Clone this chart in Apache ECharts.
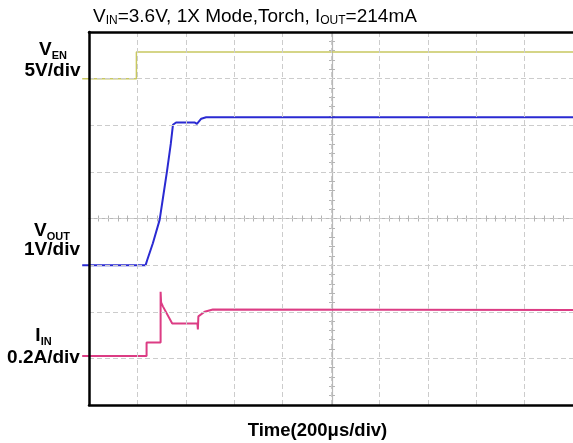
<!DOCTYPE html>
<html>
<head>
<meta charset="utf-8">
<script src="https://cdn.jsdelivr.net/npm/echarts@6/dist/echarts.min.js"></script>
<style>html,body{margin:0;padding:0;background:#fff;}#c{width:573px;height:443px;}</style>
</head>
<body>
<div id="c"></div>
<script>
// Oscilloscope traces, in divisions (x: 10 divs of 200us, y: 8 divs)
// Traces start slightly left of the graticule (channel lead-in), at x = -0.14 div
var venX  = [-0.14, 0.98, 0.98, 10];
var venY  = [7.0, 7.0, 7.57, 7.57];

var voutX = [-0.14, 1.17, 1.2, 1.32, 1.46, 1.53, 1.61, 1.69, 1.735, 1.8, 2.18, 2.23, 2.32, 2.42, 10];
var voutY = [3.0, 3.0, 3.1, 3.47, 3.97, 4.45, 5.0, 5.6, 6.01, 6.06, 6.06, 6.03, 6.14, 6.17, 6.17];

var iinX  = [-0.14, 1.19, 1.19, 1.48, 1.48, 1.49, 1.53, 1.72, 2.24, 2.25, 2.26, 2.28, 2.39, 2.56, 10];
var iinY  = [1.05, 1.05, 1.34, 1.34, 2.43, 2.2, 2.11, 1.75, 1.75, 1.62, 1.90, 1.93, 2.00, 2.05, 2.04];

var xDivs = 10, yDivs = 8, leadIn = 0.14;

function pairs(xs, ys) { return xs.map(function (x, i) { return [x, ys[i]]; }); }

var chart = echarts.init(document.getElementById('c'), null, {renderer: 'canvas'});
var gridLine = {show: true, lineStyle: {color: '#cccccc', width: 1, type: [5, 3]}};
var F = 'Liberation Sans, Arial, sans-serif';
var off = {show: false};
var tickCol = {color: '#b4b4b4', width: 1};

var GL = 89, GT = 32, GW = 486, GH = 373;
var divW = GW / xDivs;

function centerX(inside) {
  return {type: 'value', gridIndex: 0, min: 0, max: xDivs, interval: 0.2, position: 'bottom', offset: -GH / 2,
    axisLine: {show: inside, onZero: false, lineStyle: {color: '#b8b8b8', width: 1.2}}, axisLabel: off, splitLine: off,
    axisTick: {show: true, inside: inside, length: 3, lineStyle: tickCol}};
}
function centerY(inside) {
  return {type: 'value', gridIndex: 0, min: 0, max: yDivs, interval: 0.2, position: 'left', offset: -GW / 2,
    axisLine: {show: inside, onZero: false, lineStyle: {color: '#b8b8b8', width: 1.2}}, axisLabel: off, splitLine: off,
    axisTick: {show: true, inside: inside, length: 3, lineStyle: tickCol}};
}

var black = {show: true, onZero: false, lineStyle: {color: '#000', width: 2.5}};

chart.setOption({
  animation: false,
  backgroundColor: '#fff',
  grid: [
    {left: GL, top: GT, width: GW, height: GH, show: false},
    {left: GL - leadIn * divW, top: GT, width: GW + leadIn * divW, height: GH, show: false}
  ],
  xAxis: [
    {type: 'value', gridIndex: 0, min: 0, max: xDivs, interval: 1, position: 'bottom', z: 10,
     axisLine: black, axisTick: off, axisLabel: off, splitLine: gridLine},
    {type: 'value', gridIndex: 0, min: 0, max: xDivs, interval: 1, position: 'top', z: 10,
     axisLine: black, axisTick: off, axisLabel: off, splitLine: off},
    centerX(true), centerX(false),
    {type: 'value', gridIndex: 1, min: -leadIn, max: xDivs,
     axisLine: off, axisTick: off, axisLabel: off, splitLine: off}
  ],
  yAxis: [
    {type: 'value', gridIndex: 0, min: 0, max: yDivs, interval: 1, position: 'left', z: 10,
     axisLine: black, axisTick: off, axisLabel: off, splitLine: gridLine},
    centerY(true), centerY(false),
    {type: 'value', gridIndex: 1, min: 0, max: yDivs,
     axisLine: off, axisTick: off, axisLabel: off, splitLine: off}
  ],
  series: [
    {type: 'line', xAxisIndex: 4, yAxisIndex: 3, data: pairs(venX, venY), showSymbol: false, lineStyle: {color: '#c8c860', width: 1.5}, z: 3},
    {type: 'line', xAxisIndex: 4, yAxisIndex: 3, data: pairs(voutX, voutY), showSymbol: false, lineStyle: {color: '#2a2ad2', width: 2}, z: 4},
    {type: 'line', xAxisIndex: 4, yAxisIndex: 3, data: pairs(iinX, iinY), showSymbol: false, lineStyle: {color: '#dc3c84', width: 2}, z: 4}
  ],
  graphic: [
    {type: 'text', left: 93, top: 7, style: {
      text: '{n|V}{s|IN}{n|=3.6V, 1X Mode,Torch, I}{s|OUT}{n|=214mA}',
      rich: {n: {fontFamily: F, fontSize: 19, lineHeight: 21, fill: '#000'},
             s: {fontFamily: F, fontSize: 12, lineHeight: 12, verticalAlign: 'bottom', fill: '#000'}}}},
    {type: 'text', x: 53, y: 50, style: {text: '{n|V}{s|EN}', align: 'center', verticalAlign: 'middle',
      rich: {n: {fontFamily: F, fontWeight: 'bold', fontSize: 19, lineHeight: 22, fill: '#000'},
             s: {fontFamily: F, fontWeight: 'bold', fontSize: 11, lineHeight: 13, verticalAlign: 'bottom', fill: '#000'}}}},
    {type: 'text', x: 52.5, y: 71, style: {text: '5V/div', align: 'center', verticalAlign: 'middle',
      fontFamily: F, fontWeight: 'bold', fontSize: 19, fill: '#000'}},
    {type: 'text', x: 52, y: 231, style: {text: '{n|V}{s|OUT}', align: 'center', verticalAlign: 'middle',
      rich: {n: {fontFamily: F, fontWeight: 'bold', fontSize: 19, lineHeight: 22, fill: '#000'},
             s: {fontFamily: F, fontWeight: 'bold', fontSize: 11, lineHeight: 13, verticalAlign: 'bottom', fill: '#000'}}}},
    {type: 'text', x: 52, y: 250, style: {text: '1V/div', align: 'center', verticalAlign: 'middle',
      fontFamily: F, fontWeight: 'bold', fontSize: 19, fill: '#000'}},
    {type: 'text', x: 43.5, y: 336, style: {text: '{n|I}{s|IN}', align: 'center', verticalAlign: 'middle',
      rich: {n: {fontFamily: F, fontWeight: 'bold', fontSize: 19, lineHeight: 22, fill: '#000'},
             s: {fontFamily: F, fontWeight: 'bold', fontSize: 11, lineHeight: 13, verticalAlign: 'bottom', fill: '#000'}}}},
    {type: 'text', x: 43.5, y: 358, style: {text: '0.2A/div', align: 'center', verticalAlign: 'middle',
      fontFamily: F, fontWeight: 'bold', fontSize: 19, fill: '#000'}},
    {type: 'text', x: 317.5, y: 431, style: {text: 'Time(200\u03bcs/div)', align: 'center', verticalAlign: 'middle',
      fontFamily: F, fontWeight: 'bold', fontSize: 18.5, fill: '#000'}}
  ]
});
</script>
</body>
</html>
